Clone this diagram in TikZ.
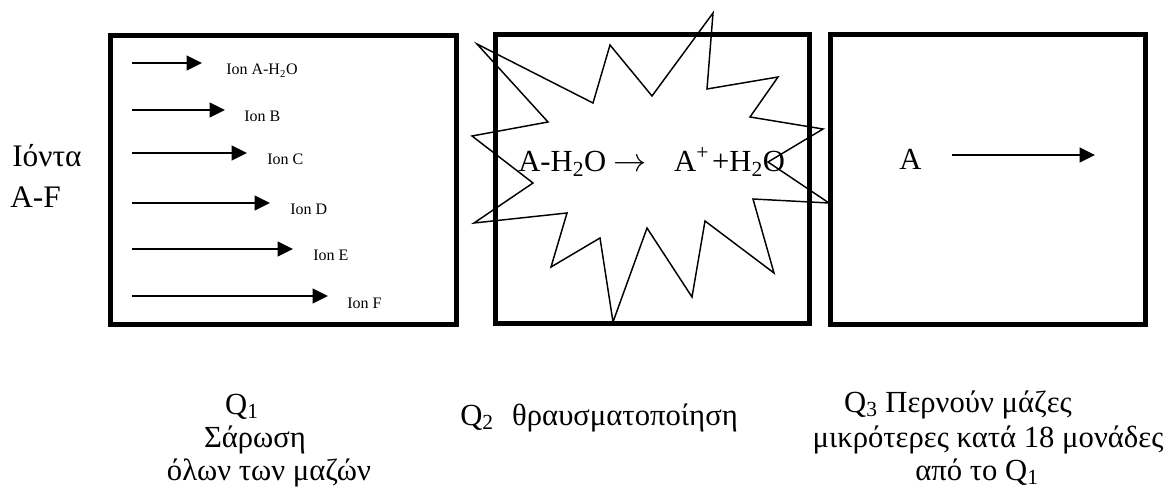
\documentclass[tikz,border=0pt]{standalone}
\usepackage{fontspec}
\setmainfont{Liberation Serif}
\usetikzlibrary{arrows.meta}

\tikzset{
  chamber/.style={line width=3.75pt},
  burst/.style={line width=1.1pt, line join=miter},
  ionarrow/.style={-{Triangle[length=11.5pt,width=11pt]}, line width=1.2pt},
  ionlabel/.style={font=\fontsize{12}{14}\selectfont, anchor=base west, inner sep=0pt},
  bigtext/.style={font=\fontsize{23}{27}\selectfont, inner sep=0pt},
}

\begin{document}
\begin{tikzpicture}[x=0.75pt,y=-0.75pt]
    \useasboundingbox (0,0) rectangle (1176,491);
    % fragmentation burst
    \draw[burst] (477,44) -- (593,103) -- (610,45) -- (652,96) -- (713,13)
        -- (707,89) -- (778,77) -- (750,117) -- (823,129) -- (768,162)
        -- (829,203) -- (753,199) -- (774,273) -- (705,221) -- (692,297)
        -- (647,228) -- (613,322) -- (600,238) -- (551,267) -- (567,213)
        -- (474,223) -- (533,183) -- (472,136) -- (548,122) -- cycle;
    % the three chambers
    \draw[chamber] (110,36) rectangle (456,324);
    \draw[chamber] (495,35) rectangle (809,323);
    \draw[chamber] (830,35) rectangle (1145,324);
    % incoming ions
    \node[font=\fontsize{23.5}{26}\selectfont, inner sep=0pt, anchor=base west] (ionta) at (12,167) {Ιόντα};
    \node[font=\fontsize{23.5}{26}\selectfont, inner sep=0pt, anchor=base west] (ionaf) at (10,208) {A-F};
    % Q1: all masses
    \foreach \n/\yy/\tip/\lx/\txt in {1/63/202/226/{Ion A-H\textsubscript{2}O},
        2/110/225/244/{Ion B}, 3/153/247/267/{Ion C}, 4/203/270/290/{Ion D},
        5/249/293/313/{Ion E}, 6/296/328/347/{Ion F}}{
        \coordinate (from\n) at (132,\yy);
        \coordinate (to\n) at (\tip,\yy);
        \node[ionlabel] (ion\n) at (\lx,\yy+12) {\txt};
        \draw[ionarrow] (from\n) -- (to\n);
    }
    % Q2: fragmentation
    \node[bigtext, anchor=base west] (reaction) at (518,172)
        {A-H\textsubscript{2}O $\rightarrow$\hspace{0.88em}A\textsuperscript{+}\hspace{0.1em}+H\textsubscript{2}O};
    % Q3: mass shifted by 18
    \node[bigtext, anchor=base west] (ionA) at (899,170) {A};
    \coordinate (astart) at (952,155);
    \coordinate (aend) at (1095,155);
    \draw[ionarrow] (astart) -- (aend);
    % captions
    \node[bigtext, anchor=base] (q1) at (242,414) {Q\textsubscript{1}};
    \node[bigtext, anchor=base] (scan) at (255,447) {Σάρωση};
    \node[bigtext, anchor=base] (allm) at (269,480) {όλων των μαζών};
    \node[bigtext, anchor=base west] (q2) at (460,425) {Q\textsubscript{2}\hspace{0.6em}θραυσματοποίηση};
    \node[bigtext, anchor=base] (q3) at (958,412) {Q\textsubscript{3} Περνούν μάζες};
    \node[bigtext, anchor=base] (less) at (988,447) {μικρότερες κατά 18 μονάδες};
    \node[bigtext, anchor=base] (fromq) at (977,480) {από το Q\textsubscript{1}};
\end{tikzpicture}
\end{document}
